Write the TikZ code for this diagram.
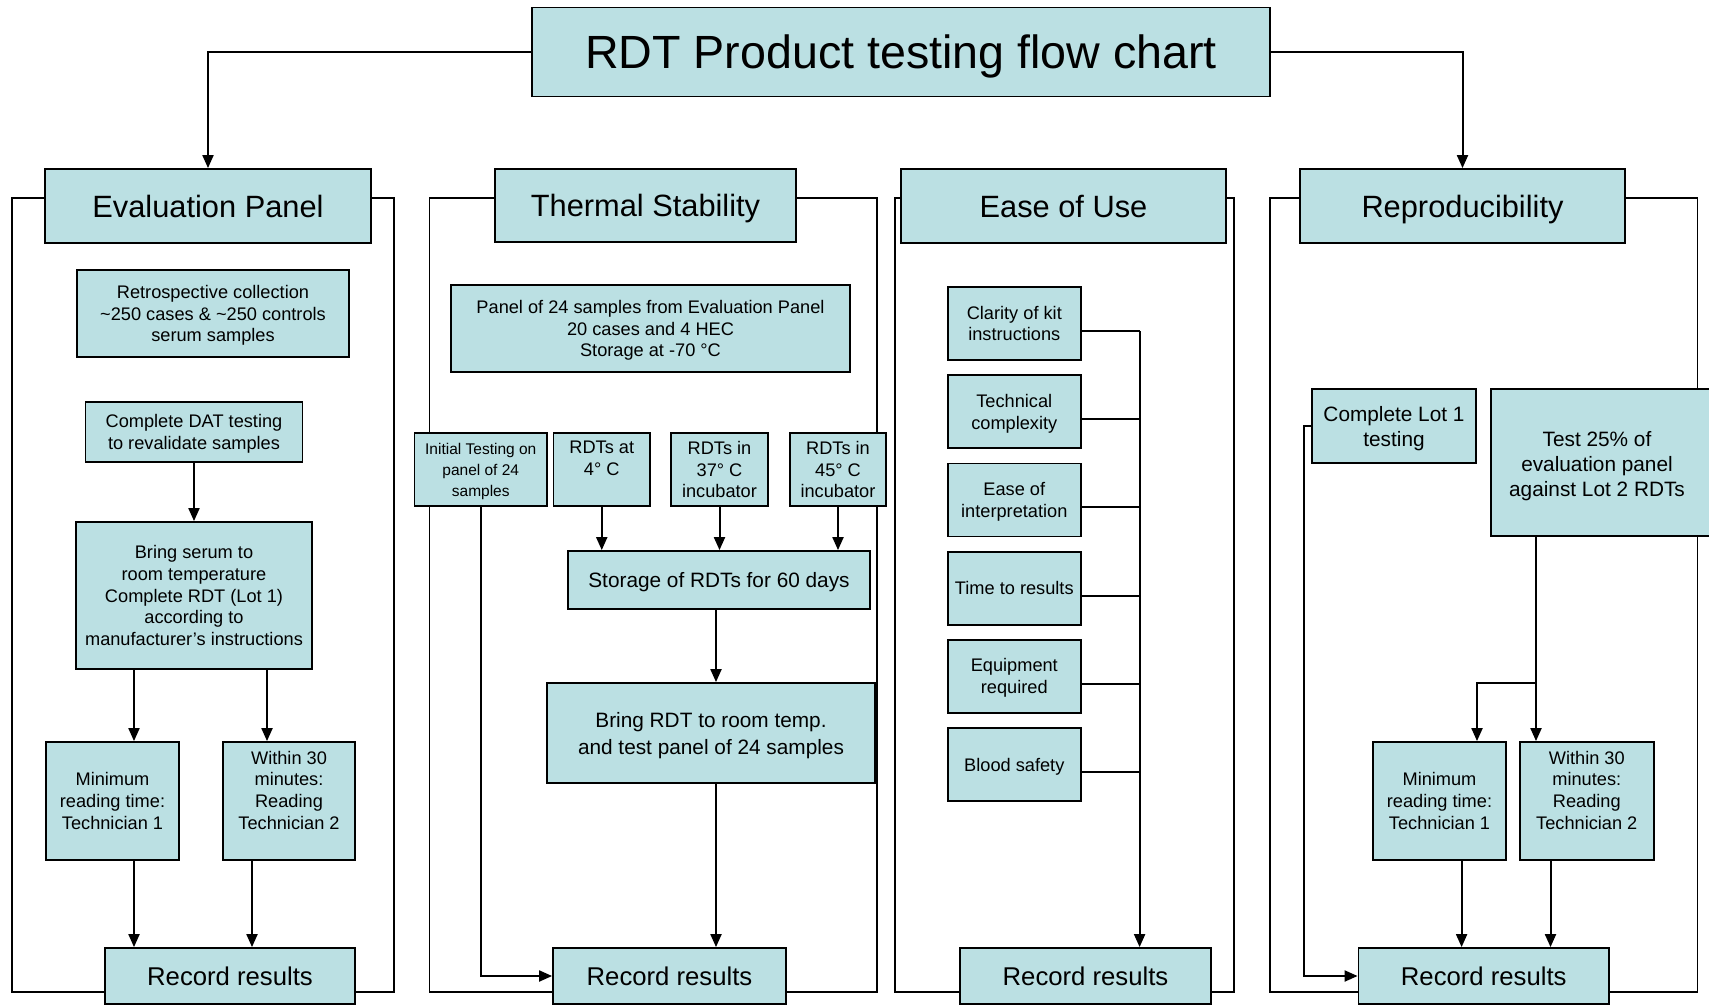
\documentclass[tikz,border=0pt]{standalone}
\usepackage{fontspec}
\setmainfont{Liberation Sans}
\usetikzlibrary{arrows.meta,calc}
\definecolor{boxfill}{RGB}{187,224,227}
\newcommand\rftitle{\fontsize{46.6}{56}\selectfont}
\newcommand\rfhead{\fontsize{30.8}{37}\selectfont}
\newcommand\rfrec{\fontsize{25.7}{31}\selectfont}
\newcommand\rfmid{\fontsize{20.8}{25}\selectfont}
\newcommand\rfmidb{\fontsize{20.8}{27}\selectfont}
\newcommand\rfsmall{\fontsize{18.2}{21.8}\selectfont}
\newcommand\rftiny{\fontsize{15.5}{21}\selectfont}
\begin{document}
\begin{tikzpicture}[x=1pt,y=-1pt,
  box/.style={draw=black,line width=1.8pt,fill=boxfill,inner sep=0pt,align=center,font=\rfsmall,text depth=0pt},
  frame/.style={draw=black,line width=1.4pt},
  arr/.style={line width=2pt,-{Triangle[length=13pt,width=11pt]}},
  conn/.style={line width=2pt}]
\useasboundingbox (0,0) rectangle (1709,1006);
\fill[white] (0,0) rectangle (1709,1006);

% lane frames
\draw[frame] (12,198) rectangle (394,992);
\draw[frame] (429.5,198) rectangle (877,992);
\draw[frame] (895,198) rectangle (1234,992);
\draw[frame] (1270,198) rectangle (1697.5,992);

% title and headers
\node[box,font=\rftitle,minimum width=738,minimum height=89] (title) at (901,52) {RDT Product testing flow chart};
\node[box,font=\rfhead,minimum width=326,minimum height=74] (ep) at (208,206) {Evaluation Panel};
\node[box,font=\rfhead,minimum width=301,minimum height=73] (ts) at (645.5,205.5) {Thermal Stability};
\node[box,font=\rfhead,minimum width=325,minimum height=74] (eu) at (1063.5,206) {Ease of Use};
\node[box,font=\rfhead,minimum width=325,minimum height=74] (rp) at (1462.5,206) {Reproducibility};

% lane 1
\node[box,minimum width=272,minimum height=87] (retro) at (213,313.5) {Retrospective collection\\\textasciitilde250 cases \& \textasciitilde250 controls\\serum samples};
\node[box,minimum width=217,minimum height=60] (dat) at (194,432) {Complete DAT testing\\to revalidate samples};
\node[box,minimum width=236,minimum height=147] (bs) at (194,595.5) {Bring serum to\\room temperature\\Complete RDT (Lot 1)\\according to\\manufacturer’s instructions};
\node[box,minimum width=133,minimum height=118] (m1) at (112.5,801) {Minimum\\reading time:\\Technician 1};
\node[box,minimum width=132.5,minimum height=118] (w1) at (289,801) {Within 30\\minutes:\\Reading\\Technician 2\\\mbox{}};
\node[box,font=\rfrec,minimum width=250.5,minimum height=56] (r1) at (230,976) {Record results};

% lane 2
\node[box,minimum width=399,minimum height=87] (p24) at (650.5,328.5) {Panel of 24 samples from Evaluation Panel\\20 cases and 4 HEC\\Storage at -70 °C};
\node[box,font=\rftiny,minimum width=132.5,minimum height=73] (init) at (480.75,469.5) {Initial Testing on\\panel of 24\\samples};
\node[box,minimum width=96.5,minimum height=73] (b4) at (601.75,469.5) {RDTs at\\4° C\\\mbox{}};
\node[box,minimum width=97,minimum height=73] (b37) at (719.5,469.5) {RDTs in\\37° C\\incubator};
\node[box,minimum width=96,minimum height=73] (b45) at (838,469.5) {RDTs in\\45° C\\incubator};
\node[box,font=\rfmid,minimum width=302,minimum height=58] (st) at (719,580) {Storage of RDTs for 60 days};
\node[box,font=\rfmidb,minimum width=328,minimum height=100] (brt) at (711,733) {Bring RDT to room temp.\\and test panel of 24 samples};
\node[box,font=\rfrec,minimum width=233,minimum height=56] (r2) at (669.5,976) {Record results};

% lane 3
\node[box,minimum width=133.4,minimum height=73] (c1) at (1014.3,323.5) {Clarity of kit\\instructions};
\node[box,minimum width=133.4,minimum height=73] (c2) at (1014.3,411.7) {Technical\\complexity};
\node[box,minimum width=133.4,minimum height=73] (c3) at (1014.3,499.9) {Ease of\\interpretation};
\node[box,minimum width=133.4,minimum height=73] (c4) at (1014.3,588.1) {Time to results};
\node[box,minimum width=133.4,minimum height=73] (c5) at (1014.3,676.3) {Equipment\\required};
\node[box,minimum width=133.4,minimum height=73] (c6) at (1014.3,764.5) {Blood safety};
\node[box,font=\rfrec,minimum width=251,minimum height=56] (r3) at (1085.5,976) {Record results};

% lane 4
\node[box,font=\rfmid,minimum width=163.5,minimum height=74] (cl1) at (1394,426) {Complete Lot 1\\testing};
\node[box,minimum width=240,minimum height=147] (t25) at (1610.7,462.5) {};
\node[font=\rfmid,align=center,inner sep=0pt,text depth=0pt] (t25txt) at (1597,463.5) {Test 25\% of\\evaluation panel\\against Lot 2 RDTs};
\node[box,minimum width=133,minimum height=118] (m4) at (1439.5,801) {Minimum\\reading time:\\Technician 1};
\node[box,minimum width=133.6,minimum height=118] (w4) at (1586.8,801) {Within 30\\minutes:\\Reading\\Technician 2\\\mbox{}};
\node[box,font=\rfrec,minimum width=250.5,minimum height=56] (r4) at (1483.75,976) {Record results};

% connectors: title
\draw[arr] (title.west) -| (ep.north);
\draw[arr] (title.east) -| (rp.north);

% lane 1 connectors
\coordinate (xa) at (134,0);
\coordinate (xb) at (267,0);
\coordinate (xc) at (252,0);
\draw[arr] (dat.south) -- (dat.south |- bs.north);
\draw[arr] (bs.south -| xa) -- (m1.north -| xa);
\draw[arr] (bs.south -| xb) -- (w1.north -| xb);
\draw[arr] (m1.south -| xa) -- (r1.north -| xa);
\draw[arr] (w1.south -| xc) -- (r1.north -| xc);

% lane 2 connectors
\coordinate (xd) at (716,0);
\draw[arr] (b4.south) -- (b4.south |- st.north);
\draw[arr] (b37.south) -- (b37.south |- st.north);
\draw[arr] (b45.south) -- (b45.south |- st.north);
\draw[arr] (st.south -| xd) -- (brt.north -| xd);
\draw[arr] (brt.south -| xd) -- (r2.north -| xd);
\draw[arr] (init.south) |- (r2.west);

% lane 3 connectors
\coordinate (bus) at (1139.6,0);
\foreach \i in {1,...,6}{
  \path ([yshift=-7.5pt]c\i.east) coordinate (e\i);
  \draw[conn] (e\i) -- (e\i -| bus);
}
\draw[arr] (e1 -| bus) -- (r3.north -| bus);

% lane 4 connectors
\coordinate (xe) at (1536,0);
\coordinate (xf) at (1477,0);
\coordinate (xg) at (1461.6,0);
\coordinate (xh) at (1550.5,0);
\coordinate (brn) at (1536,683);
\draw[arr] (cl1.west) -- ++(-7.5,0) |- (r4.west);
\draw[arr] (t25.south -| xe) -- (w4.north -| xe);
\draw[arr] (brn) -| (m4.north -| xf);
\draw[arr] (m4.south -| xg) -- (r4.north -| xg);
\draw[arr] (w4.south -| xh) -- (r4.north -| xh);
\end{tikzpicture}
\end{document}
